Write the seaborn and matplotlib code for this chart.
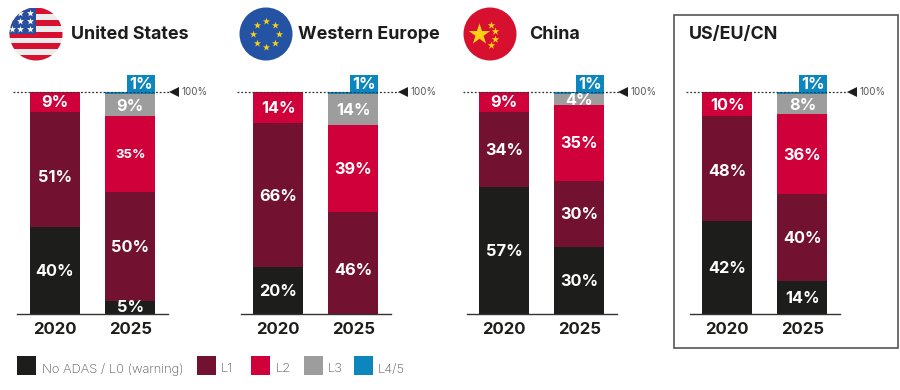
import matplotlib
matplotlib.use('Agg')
import matplotlib.pyplot as plt
from matplotlib.patches import Circle, Rectangle
import numpy as np
import pandas as pd
import seaborn as sns

years = ['2020', '2025']
levels = ['No ADAS / L0 (warning)', 'L1', 'L2', 'L3', 'L4/5']
level_colors = ['#1d1d1b', '#721130', '#d0003a', '#9d9d9d', '#0c86bd']

us_2020 = [39, 52, 9, 0, 0]
us_2025 = [6, 49, 34, 10, 1]
eu_2020 = [21, 65, 14, 0, 0]
eu_2025 = [0, 46, 39, 14, 1]
cn_2020 = [57, 34, 9, 0, 0]
cn_2025 = [30, 30, 34, 5, 1]
all_2020 = [42, 47, 11, 0, 0]
all_2025 = [15, 39, 36, 9, 1]

us_labels = [['40%', '51%', '9%'], ['5%', '50%', '35%', '9%', '1%']]
eu_labels = [['20%', '66%', '14%'], ['', '46%', '39%', '14%', '1%']]
cn_labels = [['57%', '34%', '9%'], ['30%', '30%', '35%', '4%', '1%']]
all_labels = [['42%', '48%', '10%'], ['14%', '40%', '36%', '8%', '1%']]

W, H = 900, 390
FONT = 'Inter'

sns.set_theme(style='white')
plt.rcParams['font.family'] = [FONT, 'DejaVu Sans']

fig = plt.figure(figsize=(W / 100, H / 100), dpi=100)

# overlay in pixel coords for the non-data stuff
bg = fig.add_axes([0, 0, 1, 1])
bg.set_xlim(0, W)
bg.set_ylim(H, 0)
bg.axis('off')


def make_axes(x0, x1, y0=92, y1=314):
    return fig.add_axes([x0 / W, 1 - y1 / H, (x1 - x0) / W, (y1 - y0) / H])


def draw_panel(x0, x1, v2020, v2025, labels, small=(), shift=0.0, nudge=None):
    nudge = nudge or {}
    ax = make_axes(x0, x1)
    ax.patch.set_alpha(0)
    df = pd.DataFrame({'year': years * 5,
                       'level': np.repeat(levels, 2),
                       'share': np.ravel(np.column_stack([v2020, v2025]))})
    bottoms = np.zeros(2)
    for lev, col in zip(levels, level_colors):
        sub = df[df['level'] == lev]
        sns.barplot(data=sub, x='year', y='share', order=years, color=col, width=0.665,
                    bottom=bottoms, saturation=1, ax=ax, errorbar=None, linewidth=0)
        bottoms = bottoms + sub['share'].values

    for i, vals in enumerate([v2020, v2025]):
        b = 0
        for j, v in enumerate(vals):
            if j < len(labels[i]) and labels[i][j] and j < 4:
                size = 9.5 if (i, j) in small else 11.8
                ax.text(i, b + v / 2 - 0.4 + nudge.get((i, j), 0), labels[i][j], color='white',
                        ha='center', va='center', fontsize=size, fontweight='bold')
            b += v

    # 1% tag sticking out on top of the 2025 bar
    ax.add_patch(Rectangle((0.96, 100), 0.37, 7.8, color=level_colors[4], clip_on=False, lw=0, zorder=4))
    ax.text(1.145, 103.6, labels[1][4], color='white', ha='center', va='center',
            fontsize=11.8, fontweight='bold', clip_on=False, zorder=5)

    ax.set_xlim(-0.5, 1.5)
    ax.set_ylim(0, 100)
    ax.set_xlabel('')
    ax.set_ylabel('')
    ax.set_yticks([])
    ax.set_xticks([0, 1], years, fontsize=12, fontweight='bold', color='#1d1d1b')
    ax.tick_params(axis='x', length=0, pad=5.5)
    sns.despine(ax=ax, left=True)
    ax.spines['bottom'].set_color('#333333')
    ax.spines['bottom'].set_linewidth(1)

    # dotted 100% line with its marker
    ax.plot([-0.55, 1.53 + shift], [100, 100], color='#333333', ls=(0, (1.5, 1.5)), lw=0.9, clip_on=False, zorder=3)
    ax.plot([1.58 + shift], [100], marker='<', ms=7, color='#1d1d1b', mew=0, clip_on=False)
    ax.text(1.68 + shift, 100, '100%', fontsize=7, color='#555555', va='center', ha='left', clip_on=False)
    return ax


draw_panel(17, 168, us_2020, us_2025, us_labels, small={(1, 2)}, nudge={(0, 1): -3.2, (1, 0): 0.3})
draw_panel(240.5, 391, eu_2020, eu_2025, eu_labels, shift=0.08, nudge={(1, 1): -3})
draw_panel(466.5, 617, cn_2020, cn_2025, cn_labels)
draw_panel(689.5, 840, all_2020, all_2025, all_labels, shift=0.08, nudge={(0, 1): -1})

# titles
for x, name in [(71, 'United States'), (298, 'Western Europe'), (529, 'China'), (689, 'US/EU/CN')]:
    bg.text(x, 34.5, name, fontsize=12.9, fontweight='bold', color='#1d1d1b', va='center', ha='left')

# box round the total panel
bg.add_patch(Rectangle((673.5, 14.5), 224, 333, fill=False, ec='#555555', lw=1.2))

# flags
star_y = '#fbd116'
c = Circle((36, 34), 26.5, transform=bg.transData)
for i in range(9):
    s = Rectangle((9, 8 + i * 5.9), 54, 5.9, color='#d8102f' if i % 2 == 0 else '#ececec', lw=0)
    bg.add_patch(s)
    s.set_clip_path(c)
u = Rectangle((9, 8), 27, 26, color='#2a4f9e', lw=0)
bg.add_patch(u)
u.set_clip_path(c)
us_stars = bg.scatter([20, 30, 20, 30, 12, 20, 30], [13, 13, 21, 21, 29, 29, 29], marker='*', s=28, c='white', lw=0, zorder=3)
us_stars.set_clip_path(c)

bg.add_patch(Circle((266, 34), 26.5, color='#2353a2', lw=0))
ang = np.deg2rad(np.arange(0, 360, 45) + 90)
bg.scatter(266 + 13 * np.cos(ang), 34 + 13 * np.sin(ang), marker='*', s=30, c=star_y, lw=0, zorder=3)

bg.add_patch(Circle((490, 34), 26.5, color='#d8102f', lw=0))
bg.scatter([479], [34], marker='*', s=260, c=star_y, lw=0, zorder=3)
bg.scatter([490.5, 495, 495, 490.5], [24.5, 30.5, 38.5, 44.5], marker='*', s=34, c=star_y, lw=0, zorder=3)

# legend
swatches = [17, 197, 251, 304, 354]
names_x = [42, 221, 276, 328, 378]
for sx, tx, lev, col in zip(swatches, names_x, levels, level_colors):
    bg.add_patch(Rectangle((sx, 356), 19, 19, color=col, lw=0))
    bg.text(tx, 369.5, lev, fontsize=9.3, color='#555555', va='center', ha='left', fontweight='light')

fig.savefig('out.png', dpi=100)
